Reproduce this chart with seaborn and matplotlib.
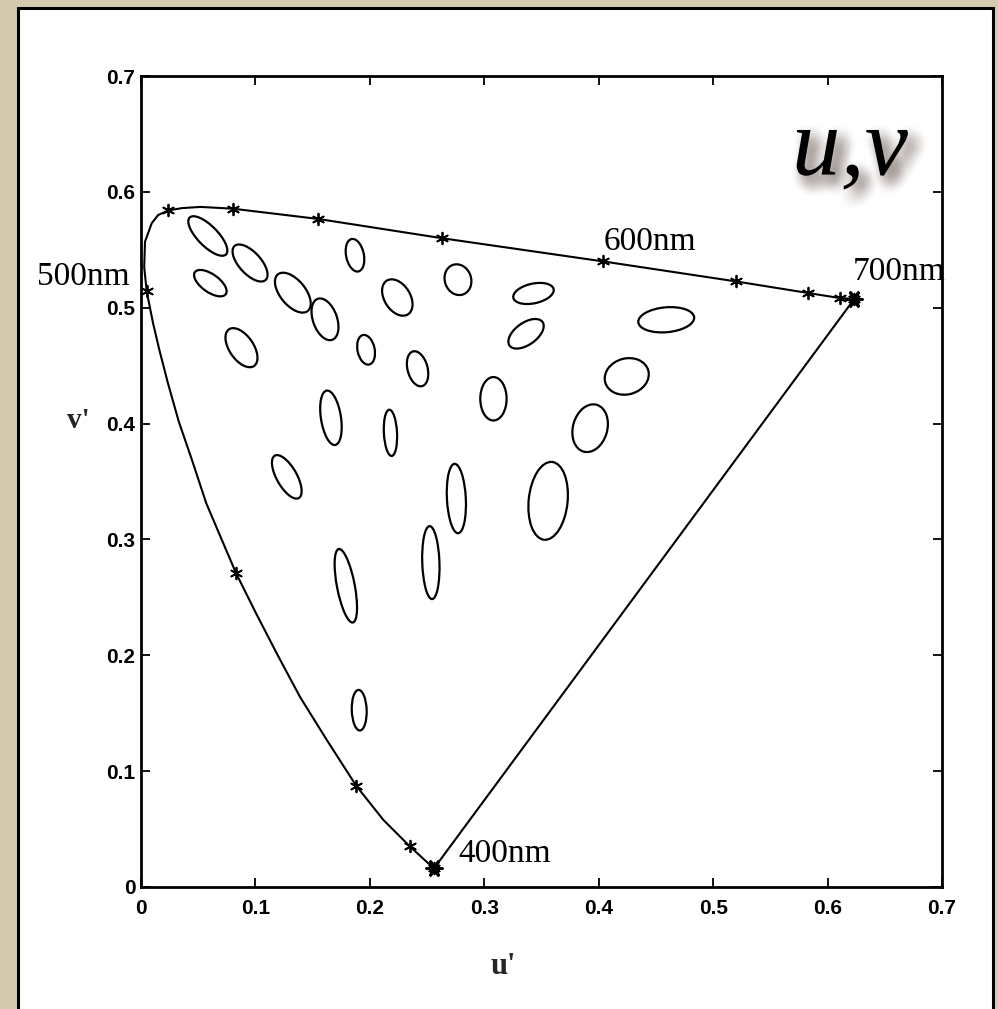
import numpy as np
import pandas as pd
import seaborn as sns
import matplotlib
matplotlib.use("Agg")
import matplotlib.pyplot as plt
from matplotlib.patches import Ellipse, Rectangle
import matplotlib.patheffects as pe

# Spectral locus in CIE 1976 u'v', traced from 400 nm round to 700 nm
locus_u = [0.256, 0.235, 0.2118, 0.188, 0.1623, 0.139, 0.1195, 0.1005, 0.083,
           0.0700, 0.0570, 0.0445, 0.0330, 0.0235, 0.0160, 0.0105, 0.005,
           0.0028, 0.0035, 0.0094, 0.015, 0.024, 0.036, 0.052, 0.080,
           0.155, 0.263, 0.4036, 0.520, 0.583, 0.611, 0.6233]
locus_v = [0.016, 0.035, 0.0579, 0.0875, 0.127, 0.164, 0.200, 0.2363, 0.271,
           0.3011, 0.3313, 0.3687, 0.4018, 0.435, 0.4637, 0.4868, 0.514,
           0.535, 0.557, 0.573, 0.580, 0.584, 0.586, 0.587, 0.5855,
           0.5766, 0.560, 0.540, 0.5227, 0.5127, 0.5083, 0.5075]

# Wavelength markers along the locus
marker_u = [0.256, 0.235, 0.188, 0.083, 0.005, 0.024, 0.080, 0.155, 0.263,
            0.4036, 0.520, 0.583, 0.611, 0.6233]
marker_v = [0.016, 0.035, 0.0875, 0.271, 0.514, 0.584, 0.5855, 0.5766, 0.560,
            0.540, 0.5227, 0.5127, 0.5083, 0.5075]
end_u = [0.256, 0.6233]
end_v = [0.016, 0.5075]

# MacAdam ellipses: centre, full axes and tilt (degrees)
ell_u = [0.0584, 0.0953, 0.0606, 0.1327, 0.1608, 0.1870, 0.2240, 0.2770,
         0.0878, 0.1967, 0.2417, 0.1660, 0.2180, 0.3080, 0.1274, 0.2756,
         0.2533, 0.1790, 0.3558, 0.3430, 0.3365, 0.4590, 0.4245, 0.3925,
         0.1907]
ell_v = [0.5619, 0.5386, 0.5212, 0.5130, 0.4900, 0.5453, 0.5088, 0.5242,
         0.4655, 0.4637, 0.4473, 0.4050, 0.3920, 0.4214, 0.3540, 0.3353,
         0.2800, 0.2600, 0.3333, 0.5123, 0.4775, 0.4896, 0.4407, 0.3960,
         0.1526]
ell_major = [0.045, 0.040, 0.033, 0.041, 0.0376, 0.0286, 0.0345, 0.027,
             0.0385, 0.026, 0.031, 0.0475, 0.040, 0.0375, 0.0422, 0.060,
             0.063, 0.0646, 0.0675, 0.036, 0.0353, 0.049, 0.039, 0.042,
             0.035]
ell_minor = [0.0175, 0.019, 0.0155, 0.022, 0.021, 0.0155, 0.0225, 0.023,
             0.021, 0.015, 0.0175, 0.0175, 0.0115, 0.023, 0.0175, 0.0165,
             0.015, 0.0155, 0.034, 0.017, 0.019, 0.0215, 0.031, 0.030,
             0.013]
ell_angle = [-45, -47, -35, -50, -70, -78, -57, -70, -55, -78, -75, -81,
             -87, 90, -60, -87, -88, -79, 84, 12, 35, 5, 15, 74, -88]

tick_values = [0, 0.1, 0.2, 0.3, 0.4, 0.5, 0.6, 0.7]
tick_labels = ["0", "0.1", "0.2", "0.3", "0.4", "0.5", "0.6", "0.7"]

sns.set_style("ticks")
plt.rcParams["font.family"] = ["Liberation Serif", "DejaVu Serif"]

W, H = 998, 1009
fig = plt.figure(figsize=(W / 100, H / 100), dpi=100, facecolor="#d4caae")

# white sheet with a dark frame
sheet = Rectangle((18 / W, -12 / H), (993 - 18) / W, (1021 - 8) / H,
                  transform=fig.transFigure, facecolor="white",
                  edgecolor="black", linewidth=2.2, zorder=0)
fig.add_artist(sheet)

ax = fig.add_axes([141 / W, 122 / H, 801 / W, 811 / H])
ax.set_facecolor("none")

locus = pd.DataFrame({"u": locus_u + [locus_u[0]], "v": locus_v + [locus_v[0]]})
sns.lineplot(data=locus, x="u", y="v", sort=False, estimator=None,
             color="black", linewidth=1.5, ax=ax)

ax.scatter(marker_u, marker_v, marker=(6, 2, 0), s=70, color="black",
           linewidths=1.3, zorder=3)
ax.scatter(end_u, end_v, marker=(6, 2, 30), s=120, color="black",
           linewidths=2.2, zorder=3)

for u, v, a, b, ang in zip(ell_u, ell_v, ell_major, ell_minor, ell_angle):
    ax.add_patch(Ellipse((u, v), a, b, angle=ang, fill=False,
                         edgecolor="black", linewidth=1.6))

ax.set_xlim(0, 0.7)
ax.set_ylim(0, 0.7)
ax.set_xticks(tick_values)
ax.set_yticks(tick_values)
ax.set_xticklabels(tick_labels)
ax.set_yticklabels(tick_labels)
ax.tick_params(direction="in", length=6.5, width=1.3, top=True, right=True,
               labelsize=15, colors="black")
ax.tick_params(axis="x", pad=9)
ax.tick_params(axis="y", pad=4)
for lbl in ax.get_xticklabels() + ax.get_yticklabels():
    lbl.set_family(["Liberation Sans Narrow", "Liberation Sans"])
    lbl.set_fontweight("bold")
for s in ax.spines.values():
    s.set_linewidth(2.0)
    s.set_color("black")

ax.set_xlabel("u'", fontsize=22, fontweight="bold", va="center")
ax.xaxis.set_label_coords(0.452, -0.0986)
ax.set_ylabel("v'", fontsize=21, fontweight="bold", rotation=0,
              va="center", ha="center")
ax.yaxis.set_label_coords(-0.0787, 0.5758)

lab_kw = dict(fontsize=24, color="black", clip_on=False)
ax.text(-0.0912, 0.5199, "500nm", **lab_kw)
ax.text(0.4047, 0.5501, "600nm", **lab_kw)
ax.text(0.622, 0.5242, "700nm", **lab_kw)
ax.text(0.2774, 0.0218, "400nm", **lab_kw)

# soft drop shadow behind the title letters
shadow = []
for dx in np.arange(-10, 10.1, 1.5):
    for dy in np.arange(-10, 10.1, 1.5):
        r2 = dx * dx + dy * dy
        if r2 <= 100:
            shadow.append(pe.SimplePatchShadow(offset=(5 + dx, -6 + dy),
                                               shadow_rgbFace="#7d6b60",
                                               alpha=0.022 * np.exp(-r2 / 40)))
ax.text(0.5688, 0.6149, "u,v", fontsize=70, style="italic", color="black",
        clip_on=False, path_effects=shadow + [pe.Normal()])

fig.savefig("out.png", dpi=100, facecolor=fig.get_facecolor())
